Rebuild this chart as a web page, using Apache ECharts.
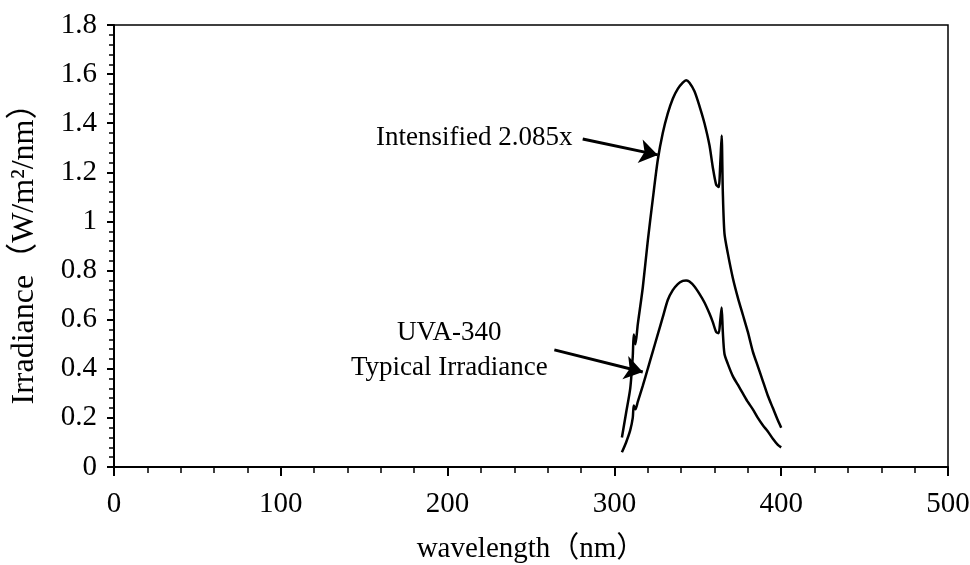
<!DOCTYPE html>
<html>
<head>
<meta charset="utf-8">
<script src="https://cdn.jsdelivr.net/npm/echarts@6/dist/echarts.min.js"></script>
<style>html,body{margin:0;padding:0;background:#fff}#c{width:970px;height:565px}</style>
</head>
<body>
<div id="c"></div>
<script>
const wavelength = [304.5, 307, 309.5, 311, 311.6, 312.6, 314, 317, 320, 323, 326, 329, 332, 335, 338, 341, 343, 345, 348, 351, 354, 357, 359, 361, 362.5, 363.5, 364.3, 365, 366, 368, 371, 374, 377, 380, 383, 386, 389, 392, 395, 398, 400];
const uva340 = [0.06, 0.10, 0.15, 0.20, 0.25, 0.235, 0.265, 0.33, 0.40, 0.47, 0.54, 0.61, 0.68, 0.72, 0.745, 0.758, 0.76, 0.755, 0.735, 0.705, 0.67, 0.625, 0.59, 0.55, 0.545, 0.60, 0.65, 0.55, 0.46, 0.42, 0.37, 0.335, 0.30, 0.265, 0.235, 0.20, 0.17, 0.145, 0.115, 0.09, 0.08];
const intensified = [0.12, 0.22, 0.32, 0.45, 0.54, 0.50, 0.58, 0.73, 0.92, 1.09, 1.25, 1.36, 1.44, 1.50, 1.54, 1.565, 1.575, 1.565, 1.53, 1.47, 1.40, 1.31, 1.22, 1.15, 1.14, 1.24, 1.35, 1.12, 0.95, 0.87, 0.77, 0.69, 0.62, 0.55, 0.47, 0.41, 0.35, 0.29, 0.24, 0.19, 0.16];
const xTitle = 'wavelength（nm）';
const yTitle = 'Irradiance（W/m²/nm）';
const labelIntensified = 'Intensified 2.085x';
const labelUva = 'UVA-340\nTypical Irradiance';

const FONT = '"Liberation Serif", "Times New Roman", "Noto Sans CJK SC", serif';
const pair = (xs, ys) => xs.map((x, i) => [x, ys[i]]);

const chart = echarts.init(document.getElementById('c'), null, {renderer: 'canvas'});
chart.setOption({
  animation: false,
  backgroundColor: '#fff',
  grid: {left: 114, right: 22, top: 25, bottom: 98, containLabel: false, outerBoundsMode: 'none', show: true, borderColor: '#000', borderWidth: 1.5, backgroundColor: 'transparent'},
  xAxis: {
    type: 'value', min: 0, max: 500, interval: 100,
    name: xTitle, nameLocation: 'middle', nameGap: 68,
    nameTextStyle: {fontFamily: FONT, fontSize: 29, color: '#000'},
    axisLine: {show: true, lineStyle: {color: '#000', width: 2}},
    axisTick: {show: true, inside: false, length: 9, lineStyle: {color: '#000', width: 2}},
    minorTick: {show: true, splitNumber: 5, length: 6, lineStyle: {color: '#000', width: 1.5}},
    axisLabel: {fontFamily: FONT, fontSize: 29, color: '#000', margin: 23, hideOverlap: false},
    splitLine: {show: false}
  },
  yAxis: {
    type: 'value', min: 0, max: 1.8, interval: 0.2,
    name: yTitle, nameLocation: 'middle', nameGap: 73,
    nameTextStyle: {fontFamily: FONT, fontSize: 32, color: '#000'},
    axisLine: {show: true, lineStyle: {color: '#000', width: 2}},
    axisTick: {show: true, inside: false, length: 7, lineStyle: {color: '#000', width: 2}},
    minorTick: {show: true, splitNumber: 5, length: 5, lineStyle: {color: '#000', width: 1.5}},
    axisLabel: {fontFamily: FONT, fontSize: 29, color: '#000', margin: 17},
    splitLine: {show: false}
  },
  series: [
    {
      name: 'Intensified', type: 'line', data: pair(wavelength, intensified),
      showSymbol: false, smooth: 0.25, lineStyle: {color: '#000', width: 2.5},
      markLine: {
        silent: true, symbol: ['none', 'arrow'], symbolSize: 18,
        lineStyle: {color: '#000', width: 3, type: 'solid'}, label: {show: false},
        data: [[{coord: [281, 1.336]}, {coord: [326, 1.271]}]]
      },
      markPoint: {
        silent: true, symbol: 'circle', symbolSize: 0,
        label: {show: true, position: 'inside', formatter: labelIntensified, fontFamily: FONT, fontSize: 27, color: '#000'},
        data: [{coord: [216, 1.34]}]
      }
    },
    {
      name: 'UVA-340', type: 'line', data: pair(wavelength, uva340),
      showSymbol: false, smooth: 0.25, lineStyle: {color: '#000', width: 2.5},
      markLine: {
        silent: true, symbol: ['none', 'arrow'], symbolSize: 18,
        lineStyle: {color: '#000', width: 3, type: 'solid'}, label: {show: false},
        data: [[{coord: [264, 0.477]}, {coord: [317, 0.387]}]]
      },
      markPoint: {
        silent: true, symbol: 'circle', symbolSize: 0,
        label: {show: true, position: 'inside', formatter: labelUva, fontFamily: FONT, fontSize: 27, lineHeight: 35, align: 'center', color: '#000'},
        data: [{coord: [201, 0.475]}]
      }
    }
  ]
});
</script>
</body>
</html>
